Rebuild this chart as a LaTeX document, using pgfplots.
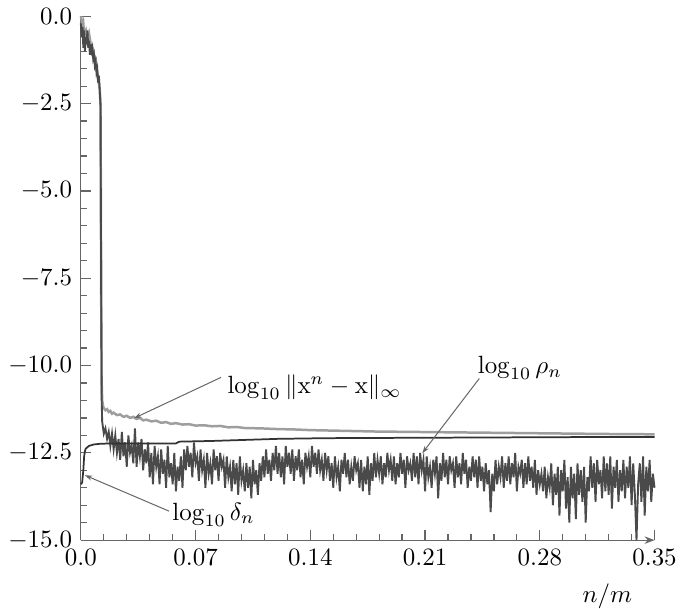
\documentclass[border=0pt]{standalone}
\usepackage{pgfplots}
\pgfplotsset{compat=1.18}
\usetikzlibrary{arrows.meta}
\definecolor{errc}{gray}{0.62}
\definecolor{rhoc}{gray}{0.29}
\definecolor{delc}{gray}{0.2}
\definecolor{axc}{gray}{0.4}
\definecolor{annc}{gray}{0.4}
\begin{document}
\begin{tikzpicture}
\begin{axis}[
  scale only axis, width=230pt, height=210pt,
  xmin=0, xmax=0.35, ymin=-15, ymax=0,
  axis lines=left,
  axis line style={axc, line width=0.5pt},
  x axis line style={-{Stealth[length=4pt,width=3pt]}},
  y axis line style={-},
  xtick={0,0.07,0.14,0.21,0.28,0.35},
  xticklabels={$0.0$,$0.07$,$0.14$,$0.21$,$0.28$,$0.35$},
  ytick={0,-2.5,-5,-7.5,-10,-12.5,-15},
  yticklabel style={/pgf/number format/.cd, fixed, fixed zerofill, precision=1},
  minor x tick num=4, minor y tick num=4,
  tick style={axc, line width=0.5pt},
  major tick length=4pt, minor tick length=2.4pt,
  tick align=inside,
  clip=false,
]
% log10 ||x^n - x||_inf
\addplot[errc, line width=1pt] coordinates {
(0,0)(0.0005,-0.1)(0.001,-0.3)(0.0015,-0.2)(0.002,-0.5)(0.003,-0.4)(0.004,-0.7)(0.005,-0.5)(0.006,-0.8)(0.007,-0.9)
(0.008,-1.1)(0.009,-1.2)(0.0095,-1.5)(0.010,-1.6)(0.011,-1.9)(0.0115,-2.1)(0.012,-2.5)(0.0124,-8)(0.0127,-10.5)
(0.013,-11.0)(0.0135,-11.15)(0.014,-11.22)(0.015,-11.28)(0.016,-11.25)(0.017,-11.33)(0.018,-11.3)(0.019,-11.38)(0.020,-11.35)
(0.022,-11.42)(0.024,-11.4)(0.026,-11.47)(0.028,-11.44)(0.030,-11.5)(0.032,-11.47)(0.034,-11.53)(0.036,-11.5)(0.038,-11.57)
(0.040,-11.55)(0.043,-11.6)(0.046,-11.58)(0.049,-11.64)(0.052,-11.62)(0.055,-11.67)(0.058,-11.65)(0.062,-11.69)(0.066,-11.68)
(0.070,-11.72)(0.075,-11.71)(0.080,-11.74)(0.085,-11.73)(0.090,-11.77)(0.095,-11.76)(0.100,-11.79)(0.11,-11.8)(0.12,-11.82)
(0.13,-11.83)(0.14,-11.85)(0.15,-11.86)(0.16,-11.87)(0.18,-11.89)(0.20,-11.9)(0.22,-11.91)(0.24,-11.92)(0.26,-11.93)
(0.28,-11.94)(0.30,-11.95)(0.32,-11.96)(0.35,-11.97)
};
% log10 rho_n
\addplot[rhoc, line width=0.75pt] coordinates {
(0,-0.2)(0.0005,-0.6)(0.001,-0.3)(0.0015,-0.9)(0.002,-0.4)(0.0025,-1.0)(0.003,-0.6)(0.0035,-0.8)(0.004,-0.4)(0.0045,-0.9)
(0.005,-0.7)(0.0055,-1.1)(0.006,-0.8)(0.0065,-1.0)(0.007,-0.9)(0.0075,-1.2)(0.008,-1.1)(0.0085,-1.4)(0.009,-1.3)(0.0095,-1.6)
(0.010,-1.5)(0.0105,-1.9)(0.011,-1.7)(0.0115,-2.1)(0.012,-2.6)(0.0124,-8)(0.0127,-11.0)(0.013,-11.6)
(0.014,-11.95)(0.015,-11.8)(0.016,-12.1)(0.017,-11.9)(0.018,-12.3)(0.019,-11.95)(0.020,-12.4)
(0.021,-12.0)(0.022,-12.5)(0.023,-12.1)(0.024,-12.7)(0.025,-11.9)(0.026,-12.6)(0.027,-12.2)(0.028,-12.9)(0.029,-12.0)(0.030,-12.5)
(0.031,-12.3)(0.032,-12.8)(0.033,-11.8)(0.034,-12.9)(0.035,-12.2)(0.036,-12.6)(0.037,-12.1)(0.038,-13.0)(0.039,-12.4)(0.040,-12.8)
(0.041,-12.2)(0.042,-13.2)(0.043,-12.5)(0.044,-13.4)(0.045,-12.3)(0.046,-12.9)(0.047,-12.6)(0.048,-13.4)(0.049,-12.4)(0.050,-13.1)
(0.051,-12.7)(0.052,-13.5)(0.053,-12.3)(0.054,-13.2)(0.055,-12.8)(0.056,-13.4)(0.057,-12.5)(0.058,-13.6)(0.059,-12.9)(0.060,-13.3)
(0.061,-12.6)(0.062,-13.5)(0.063,-12.4)(0.064,-13.0)(0.065,-12.3)(0.066,-12.9)(0.067,-12.5)(0.068,-13.2)(0.069,-12.2)(0.070,-12.8)
(0.071,-12.6)(0.072,-13.3)(0.073,-12.4)(0.074,-13.0)(0.075,-12.7)(0.076,-13.5)(0.077,-12.5)(0.078,-13.1)(0.079,-12.8)(0.080,-13.4)
(0.081,-12.4)(0.082,-13.0)(0.083,-12.6)(0.084,-13.3)(0.085,-12.5)(0.086,-12.9)(0.087,-12.7)(0.088,-13.5)(0.089,-12.6)(0.090,-13.2)
(0.091,-12.9)(0.092,-13.6)(0.093,-12.7)(0.094,-13.4)(0.095,-12.8)(0.096,-13.7)(0.097,-12.6)(0.098,-13.3)(0.099,-13.0)(0.100,-13.6)
(0.101,-12.8)(0.102,-13.5)(0.103,-12.9)(0.104,-13.8)(0.105,-12.7)(0.106,-13.4)(0.107,-13.0)(0.108,-13.7)(0.109,-12.8)(0.110,-13.3)
(0.111,-12.6)(0.112,-13.2)(0.113,-12.4)(0.114,-13.1)(0.115,-12.7)(0.116,-13.3)(0.117,-12.5)(0.118,-13.0)(0.119,-12.3)(0.120,-13.1)
(0.121,-12.5)(0.122,-13.2)(0.123,-12.6)(0.124,-13.4)(0.125,-12.3)(0.126,-12.9)(0.127,-12.5)(0.128,-13.1)(0.129,-12.4)(0.130,-13.3)
(0.131,-12.6)(0.132,-13.0)(0.133,-12.4)(0.134,-13.2)(0.135,-12.7)(0.136,-13.4)(0.137,-12.5)(0.138,-12.9)(0.139,-12.6)(0.140,-13.2)
(0.141,-12.3)(0.142,-12.9)(0.143,-12.5)(0.144,-13.1)(0.145,-12.4)(0.146,-13.0)(0.147,-12.7)(0.148,-13.3)(0.149,-12.5)(0.150,-13.0)
(0.151,-12.6)(0.152,-13.3)(0.153,-12.8)(0.154,-13.5)(0.155,-12.6)(0.156,-13.2)(0.157,-12.9)(0.158,-13.6)(0.159,-12.7)(0.160,-13.1)
(0.161,-12.5)(0.162,-13.2)(0.163,-12.7)(0.164,-13.4)(0.165,-12.9)(0.166,-13.3)(0.167,-12.6)(0.168,-13.0)(0.169,-12.8)(0.170,-13.5)
(0.171,-12.7)(0.172,-13.6)(0.173,-12.9)(0.174,-13.4)(0.175,-12.6)(0.176,-13.7)(0.177,-12.8)(0.178,-13.3)(0.179,-12.5)(0.180,-13.2)
(0.181,-12.7)(0.182,-13.1)(0.183,-12.6)(0.184,-13.4)(0.185,-12.8)(0.186,-13.2)(0.187,-12.5)(0.188,-13.0)(0.189,-12.7)(0.190,-13.3)
(0.191,-12.6)(0.192,-13.4)(0.193,-12.8)(0.194,-13.2)(0.195,-12.5)(0.196,-13.1)(0.197,-12.7)(0.198,-13.5)(0.199,-12.6)(0.200,-13.0)
(0.201,-12.8)(0.202,-13.3)(0.203,-12.5)(0.204,-13.2)(0.205,-12.6)(0.206,-13.4)(0.207,-12.5)(0.208,-13.0)(0.209,-12.7)(0.210,-13.6)
(0.211,-12.6)(0.212,-13.2)(0.213,-12.9)(0.214,-13.5)(0.215,-12.7)(0.216,-13.1)(0.217,-12.6)(0.218,-13.8)(0.219,-12.8)(0.220,-13.3)
(0.221,-12.5)(0.222,-13.2)(0.223,-12.7)(0.224,-13.4)(0.225,-12.6)(0.226,-13.0)(0.227,-12.8)(0.228,-13.5)(0.229,-12.6)(0.230,-13.2)
(0.231,-12.8)(0.232,-13.4)(0.233,-12.5)(0.234,-13.1)(0.235,-12.7)(0.236,-13.5)(0.237,-12.9)(0.238,-13.3)(0.239,-12.6)(0.240,-13.2)
(0.241,-12.7)(0.242,-13.5)(0.243,-12.6)(0.244,-13.3)(0.245,-12.9)(0.246,-13.6)(0.247,-12.8)(0.248,-13.4)(0.249,-13.0)(0.250,-14.2)
(0.251,-13.1)(0.252,-13.6)(0.253,-12.7)(0.254,-13.4)(0.255,-12.9)(0.256,-13.2)(0.257,-12.6)(0.258,-13.5)(0.259,-12.8)(0.260,-13.3)
(0.261,-12.6)(0.262,-13.4)(0.263,-12.8)(0.264,-13.2)(0.265,-12.5)(0.266,-13.6)(0.267,-12.9)(0.268,-13.1)(0.269,-12.7)(0.270,-13.5)
(0.271,-12.8)(0.272,-13.4)(0.273,-12.6)(0.274,-13.3)(0.275,-12.9)(0.276,-13.5)(0.277,-12.7)(0.278,-13.7)(0.279,-13.0)(0.280,-13.4)
(0.281,-13.1)(0.282,-13.6)(0.283,-12.9)(0.284,-13.8)(0.285,-13.2)(0.286,-13.5)(0.287,-12.8)(0.288,-14.0)(0.289,-13.1)(0.290,-13.7)
(0.291,-12.9)(0.292,-14.3)(0.293,-13.0)(0.294,-13.6)(0.295,-12.7)(0.296,-14.1)(0.297,-13.2)(0.298,-14.5)(0.299,-12.9)(0.300,-13.8)
(0.301,-13.1)(0.302,-14.4)(0.303,-12.8)(0.304,-13.7)(0.305,-13.0)(0.306,-13.9)(0.307,-12.9)(0.308,-14.5)(0.309,-13.2)(0.310,-13.6)
(0.311,-12.6)(0.312,-13.5)(0.313,-12.8)(0.314,-13.9)(0.315,-12.7)(0.316,-13.4)(0.317,-13.0)(0.318,-13.8)(0.319,-12.6)(0.320,-13.6)
(0.321,-12.8)(0.322,-13.7)(0.323,-12.6)(0.324,-14.1)(0.325,-12.9)(0.326,-13.5)(0.327,-12.7)(0.328,-13.9)(0.329,-13.0)(0.330,-13.6)
(0.331,-12.7)(0.332,-13.8)(0.333,-12.9)(0.334,-13.5)(0.335,-12.6)(0.336,-14.0)(0.337,-12.8)(0.338,-13.7)(0.339,-15.0)(0.340,-13.4)
(0.341,-12.8)(0.342,-13.9)(0.343,-12.6)(0.344,-14.3)(0.345,-12.9)(0.346,-13.6)(0.347,-12.7)(0.348,-13.9)(0.349,-13.1)(0.350,-13.5)
};
% log10 delta_n
\addplot[delc, line width=0.7pt] coordinates {
(0,-13.4)(0.0008,-13.35)(0.0015,-13.0)(0.002,-12.6)(0.0025,-12.45)(0.003,-12.38)(0.005,-12.3)(0.008,-12.26)(0.012,-12.24)
(0.02,-12.23)(0.058,-12.23)(0.06,-12.18)(0.08,-12.16)(0.1,-12.13)(0.12,-12.1)(0.15,-12.08)(0.2,-12.07)(0.25,-12.06)(0.3,-12.05)(0.35,-12.05)
};
% annotations
\draw[annc, line width=0.4pt, -{Stealth[length=3pt,width=2pt]}] (axis cs:0.0855,-10.34) -- (axis cs:0.0324,-11.51);
\node[anchor=base west, inner sep=0pt] at (axis cs:0.0892,-10.8) {$\log_{10}\|\mathrm{x}^n-\mathrm{x}\|_\infty$};
\draw[annc, line width=0.4pt, -{Stealth[length=3pt,width=2pt]}] (axis cs:0.2431,-10.37) -- (axis cs:0.2083,-12.51);
\node[anchor=base west, inner sep=0pt] at (axis cs:0.2419,-10.23) {$\log_{10}\rho_n$};
\draw[annc, line width=0.4pt, -{Stealth[length=3pt,width=2pt]}] (axis cs:0.0538,-14.17) -- (axis cs:0.0024,-13.14);
\node[anchor=base west, inner sep=0pt] at (axis cs:0.0556,-14.43) {$\log_{10}\delta_n$};
\node[anchor=north east, inner sep=0pt, xshift=-8.8pt, yshift=-17.2pt] at (rel axis cs:1,0) {$n/m$};
\end{axis}
\end{tikzpicture}
\end{document}
